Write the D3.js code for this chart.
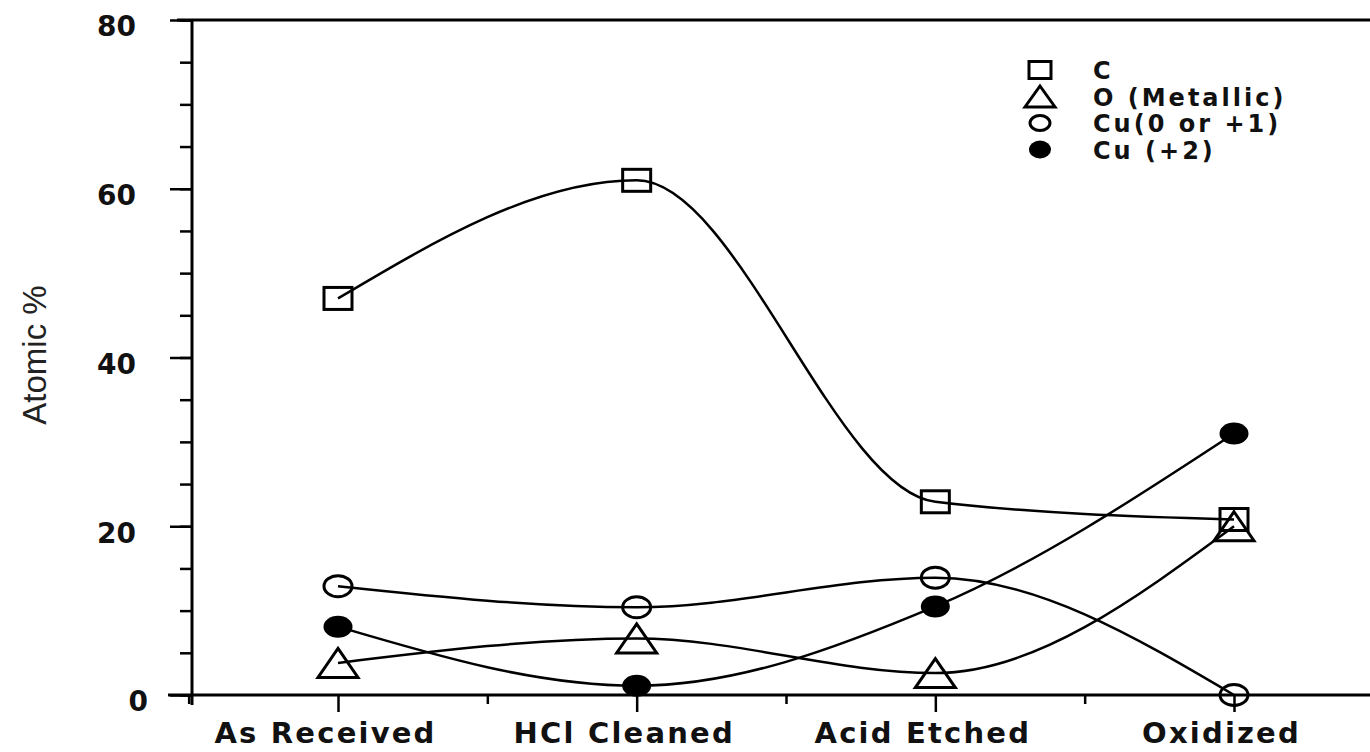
<!DOCTYPE html>
<html>
<head>
<meta charset="utf-8">
<script src="https://cdn.jsdelivr.net/npm/d3@7"></script>
<style>
  body { margin: 0; background: #fff; }
  svg { display: block; }
  .ticklab { font-family: "DejaVu Sans", sans-serif; font-weight: bold; }
</style>
</head>
<body>
<svg id="chart" width="1370" height="752"></svg>
<script>
// categories and values
let stages = ["As Received", "HCl Cleaned", "Acid Etched", "Oxidized"];
let carbon = [47.0, 61.0, 22.9, 20.8];
let oxygenMetallic = [3.8, 6.7, 2.6, 20.0];
let cuLow = [12.9, 10.4, 13.9, 0.0];
let cuHigh = [8.1, 1.1, 10.5, 31.0];
let yTicks = [0, 20, 40, 60, 80];
let legendLabels = ["C", "O (Metallic)", "Cu(0 or +1)", "Cu (+2)"];

let series = [
  { name: legendLabels[0], values: carbon, mark: "square" },
  { name: legendLabels[1], values: oxygenMetallic, mark: "triangle" },
  { name: legendLabels[2], values: cuLow, mark: "open" },
  { name: legendLabels[3], values: cuHigh, mark: "filled" }
];

let svg = d3.select("#chart");

let x = d3.scalePoint().domain(stages).range([338, 1234]);
let xi = d3.scaleLinear().domain([0, 3]).range([338, 1234]);
let y = d3.scaleLinear().domain([0, 80]).range([695, 20]);

// frame: top line and bottom axis line
svg.append("line")
  .attr("x1", 177).attr("x2", 1370)
  .attr("y1", y(80)).attr("y2", y(80))
  .attr("stroke", "#000").attr("stroke-width", 3);

svg.append("line")
  .attr("x1", 168).attr("x2", 1370)
  .attr("y1", y(0)).attr("y2", y(0))
  .attr("stroke", "#000").attr("stroke-width", 3);

svg.append("line")
  .attr("x1", 192).attr("x2", 192)
  .attr("y1", y(80)).attr("y2", y(0) + 10)
  .attr("stroke", "#000").attr("stroke-width", 3);

// y axis, major + minor ticks
let yMinor = svg.append("g")
  .attr("transform", "translate(192,0)")
  .call(d3.axisLeft(y).tickValues(d3.range(0, 81, 5)).tickSize(12).tickFormat(""));
yMinor.select(".domain").remove();
yMinor.selectAll("line").attr("stroke-width", 2.5);

let yAxis = svg.append("g")
  .attr("transform", "translate(192,0)")
  .call(d3.axisLeft(y).tickValues(yTicks).tickSize(22).tickPadding(34));
yAxis.select(".domain").remove();
yAxis.selectAll("line").attr("stroke-width", 2.5);
yAxis.selectAll("text")
  .attr("class", "ticklab")
  .attr("font-size", 28)
  .attr("fill", "#111")
  .attr("dy", "0.57em")
  .attr("dx", d => d == 0 ? 12 : 0);

// x axis, ticks below
let xMinor = svg.append("g")
  .attr("transform", `translate(0,${y(0)})`)
  .call(d3.axisBottom(xi).tickValues([-0.5, 0.5, 1.5, 2.5]).tickSize(9).tickFormat(""));
xMinor.select(".domain").remove();
xMinor.selectAll("line").attr("stroke-width", 2.5);

let xAxis = svg.append("g")
  .attr("transform", `translate(0,${y(0)})`)
  .call(d3.axisBottom(x).tickSize(17).tickPadding(10));
xAxis.select(".domain").remove();
xAxis.selectAll("line").attr("stroke-width", 2.5);
xAxis.selectAll("text")
  .attr("class", "ticklab")
  .attr("font-size", 29)
  .attr("letter-spacing", 2.2)
  .attr("fill", "#111")
  .attr("dx", -13);

// y title
svg.append("text")
  .attr("transform", "translate(46,355) rotate(-90)")
  .attr("text-anchor", "middle")
  .attr("font-family", "Liberation Sans, Arial, sans-serif")
  .attr("font-size", 33)
  .attr("fill", "#222")
  .text("Atomic %");

// curves
let line = d3.line()
  .x((d, i) => x(stages[i]))
  .y(d => y(d))
  .curve(d3.curveMonotoneX);

svg.selectAll(".curve")
  .data(series)
  .enter().append("path")
  .attr("class", "curve")
  .attr("d", d => line(d.values))
  .attr("fill", "none")
  .attr("stroke", "#000")
  .attr("stroke-width", 2.5);

function drawMark(g, mark, w, h) {
  if (mark == "square") {
    g.append("rect").attr("x", -w / 2).attr("y", -h / 2)
      .attr("width", w).attr("height", h)
      .attr("fill", "none").attr("stroke", "#000").attr("stroke-width", 3);
  } else if (mark == "triangle") {
    g.append("path")
      .attr("d", `M0,${-h / 2}L${w / 2},${h / 2}L${-w / 2},${h / 2}Z`)
      .attr("fill", "none").attr("stroke", "#000").attr("stroke-width", 3);
  } else if (mark == "open") {
    g.append("ellipse").attr("rx", w / 2).attr("ry", h / 2)
      .attr("fill", "none").attr("stroke", "#000").attr("stroke-width", 3);
  } else {
    g.append("ellipse").attr("rx", w / 2).attr("ry", h / 2)
      .attr("fill", "#000");
  }
}

let markSize = {
  square: [28, 22],
  triangle: [40, 29],
  open: [28, 21],
  filled: [29, 22]
};

series.forEach(s => {
  s.values.forEach((v, i) => {
    let g = svg.append("g")
      .attr("transform", `translate(${x(stages[i])},${y(v)})`);
    drawMark(g, s.mark, markSize[s.mark][0], markSize[s.mark][1]);
  });
});

// legend
let legendSize = {
  square: [22, 17],
  triangle: [30, 21],
  open: [20, 15],
  filled: [22, 18]
};

let legend = svg.selectAll(".legend")
  .data(series)
  .enter().append("g")
  .attr("class", "legend")
  .attr("transform", (d, i) => `translate(1040,${70 + i * 26.5})`);

legend.each(function(d) {
  drawMark(d3.select(this), d.mark, legendSize[d.mark][0], legendSize[d.mark][1]);
});

legend.append("text")
  .attr("class", "ticklab")
  .attr("x", 53)
  .attr("y", 9)
  .attr("font-size", 24)
  .attr("letter-spacing", 3)
  .attr("fill", "#111")
  .text(d => d.name);
</script>
</body>
</html>
